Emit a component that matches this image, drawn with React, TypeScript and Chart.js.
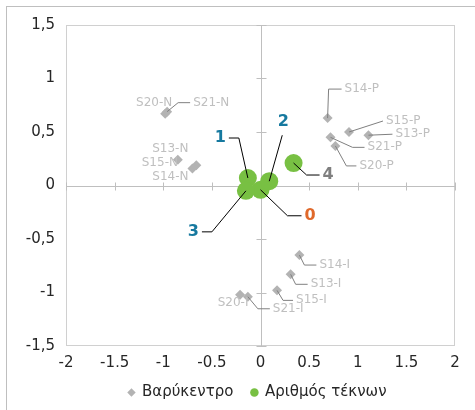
import React, { useEffect, useRef } from "react";
import { Chart, registerables } from "chart.js";

Chart.register(...registerables);

// ---------- DATA ----------
const seriesNames = ["Βαρύκεντρο", "Αριθμός τέκνων"];

const centroidNames = [
  "S13-N", "S14-N", "S15-N", "S20-N", "S21-N",
  "S13-P", "S14-P", "S15-P", "S20-P", "S21-P",
  "S13-I", "S14-I", "S15-I", "S20-I", "S21-I",
];
const centroidX = [-0.66, -0.70, -0.85, -0.98, -0.96, 1.11, 0.69, 0.91, 0.77, 0.72, 0.31, 0.40, 0.17, -0.21, -0.13];
const centroidY = [0.19, 0.16, 0.24, 0.67, 0.69, 0.47, 0.63, 0.50, 0.37, 0.45, -0.83, -0.65, -0.98, -1.02, -1.04];

const childNames = ["0", "1", "2", "3", "4"];
const childX = [0.0, -0.13, 0.09, -0.15, 0.34];
const childY = [-0.04, 0.07, 0.04, -0.05, 0.21];

const xMin = -2, xMax = 2, yMin = -1.5, yMax = 1.5, tickStep = 0.5;

// ---------- LABEL LAYOUT (pixel offsets from the point) ----------
type Align = "left" | "right" | "center";
type Leader = "none" | "elbow" | "below";
interface LabelSpec { dx: number; dy: number; align: Align; leader: Leader; elbow?: number; color?: string; }

const centroidLabelLayout: Record<string, LabelSpec> = {
  "S20-N": { dx: -11, dy: -11, align: "center", leader: "none" },
  "S21-N": { dx: 26, dy: -9, align: "left", leader: "elbow", elbow: 12 },
  "S15-N": { dx: -18, dy: 3, align: "center", leader: "none" },
  "S13-N": { dx: -26, dy: -16, align: "center", leader: "none" },
  "S14-N": { dx: -22, dy: 8, align: "center", leader: "none" },
  "S14-P": { dx: 17, dy: -29, align: "left", leader: "elbow", elbow: 13 },
  "S15-P": { dx: 37, dy: -11, align: "left", leader: "elbow", elbow: 0 },
  "S13-P": { dx: 27, dy: -1, align: "left", leader: "elbow", elbow: 0 },
  "S21-P": { dx: 37, dy: 10, align: "left", leader: "elbow", elbow: 12 },
  "S20-P": { dx: 24, dy: 20, align: "left", leader: "elbow", elbow: 10 },
  "S14-I": { dx: 20, dy: 10, align: "left", leader: "elbow", elbow: 12 },
  "S13-I": { dx: 20, dy: 10, align: "left", leader: "elbow", elbow: 12 },
  "S15-I": { dx: 19, dy: 10, align: "left", leader: "elbow", elbow: 10 },
  "S20-I": { dx: -7, dy: 8, align: "center", leader: "none" },
  "S21-I": { dx: 25, dy: 12, align: "left", leader: "elbow", elbow: 12 },
};

const childLabelLayout: Record<string, LabelSpec> = {
  "0": { dx: 44, dy: 26, align: "left", leader: "elbow", elbow: 14, color: "#e0692b" },
  "1": { dx: -22, dy: -40, align: "right", leader: "elbow", elbow: 10, color: "#16799f" },
  "2": { dx: 14, dy: -59, align: "center", leader: "below", color: "#16799f" },
  "3": { dx: -47, dy: 41, align: "right", leader: "elbow", elbow: 10, color: "#16799f" },
  "4": { dx: 29, dy: 12, align: "left", leader: "elbow", elbow: 13, color: "#7f7f7f" },
};

const FONT = "'DejaVu Sans', sans-serif";

function fmt(v: number): string {
  return String(Math.round(v * 10) / 10).replace(".", ",");
}

function drawLabel(ctx: CanvasRenderingContext2D, px: number, py: number, text: string, spec: LabelSpec, lineColor: string) {
  const tx = px + spec.dx;
  const ty = py + spec.dy;
  ctx.strokeStyle = lineColor;
  ctx.lineWidth = 1;
  if (spec.leader === "elbow") {
    const dir = spec.align === "right" ? -1 : 1;
    const edge = tx - dir * 3;
    const ex = edge - dir * (spec.elbow || 0);
    ctx.beginPath();
    ctx.moveTo(px, py);
    ctx.lineTo(ex, ty);
    ctx.lineTo(edge, ty);
    ctx.stroke();
  } else if (spec.leader === "below") {
    ctx.beginPath();
    ctx.moveTo(px, py);
    ctx.lineTo(tx - 1, ty + 13);
    ctx.stroke();
  }
  ctx.textAlign = spec.align;
  ctx.textBaseline = "middle";
  ctx.fillText(text, tx, ty);
}

const decorPlugin = {
  id: "decor",
  afterLayout(chart: any) {
    const lg = chart.legend;
    if (lg) {
      lg.left = chart.chartArea.left - 6;
      lg.right = chart.chartArea.right;
    }
  },
  beforeDraw(chart: any) {
    const ctx = chart.ctx as CanvasRenderingContext2D;
    ctx.save();
    ctx.fillStyle = "#ffffff";
    ctx.fillRect(0, 0, chart.width, chart.height);
    ctx.strokeStyle = "#bfbfbf";
    ctx.lineWidth = 1;
    ctx.strokeRect(6.5, 6.5, chart.width + 20, chart.height + 20);
    ctx.restore();
  },
  beforeDatasetsDraw(chart: any) {
    const ctx = chart.ctx as CanvasRenderingContext2D;
    const { left, right, top, bottom } = chart.chartArea;
    const xs = chart.scales.x;
    const ys = chart.scales.y;
    ctx.save();
    ctx.lineWidth = 1;
    ctx.strokeStyle = "#d0d0d0";
    ctx.strokeRect(Math.round(left) + 0.5, Math.round(top) + 0.5, Math.round(right - left) - 1, Math.round(bottom - top) - 1);
    const x0 = Math.round(xs.getPixelForValue(0)) + 0.5;
    const y0 = Math.round(ys.getPixelForValue(0)) + 0.5;
    ctx.strokeStyle = "#bfbfbf";
    ctx.beginPath();
    ctx.moveTo(x0, top); ctx.lineTo(x0, bottom);
    ctx.moveTo(left, y0); ctx.lineTo(right, y0);
    xs.ticks.forEach((t: any) => {
      const p = Math.round(xs.getPixelForValue(t.value)) + 0.5;
      ctx.moveTo(p, y0 - 4); ctx.lineTo(p, y0 + 4);
    });
    ys.ticks.forEach((t: any) => {
      const p = Math.round(ys.getPixelForValue(t.value)) + 0.5;
      ctx.moveTo(x0 - 5, p); ctx.lineTo(x0 + 5, p);
    });
    ctx.stroke();
    ctx.restore();
  },
  afterDatasetsDraw(chart: any) {
    const ctx = chart.ctx as CanvasRenderingContext2D;
    ctx.save();
    const m0 = chart.getDatasetMeta(0);
    ctx.font = `12px ${FONT}`;
    ctx.fillStyle = "#bfbfbf";
    centroidNames.forEach((name, i) => {
      const el = m0.data[i];
      const spec = centroidLabelLayout[name];
      if (el && spec) drawLabel(ctx, el.x, el.y, name, spec, "#808080");
    });
    const m1 = chart.getDatasetMeta(1);
    ctx.font = `bold 16px ${FONT}`;
    childNames.forEach((name, i) => {
      const el = m1.data[i];
      const spec = childLabelLayout[name];
      if (el && spec) {
        ctx.fillStyle = spec.color || "#000";
        drawLabel(ctx, el.x, el.y, name, spec, "#000000");
      }
    });
    ctx.restore();
  },
};

export default function App() {
  const ref = useRef<HTMLCanvasElement | null>(null);
  useEffect(() => {
    if (!ref.current) return;
    const chart = new Chart(ref.current, {
      type: "scatter",
      data: {
        datasets: [
          {
            label: seriesNames[0],
            data: centroidNames.map((_, i) => ({ x: centroidX[i], y: centroidY[i] })),
            pointStyle: "rectRot",
            pointRadius: 5,
            pointHoverRadius: 5,
            backgroundColor: "#b3b3b3",
            borderColor: "#a6a6a6",
            borderWidth: 0,
          },
          {
            label: seriesNames[1],
            data: childNames.map((_, i) => ({ x: childX[i], y: childY[i] })),
            pointStyle: "circle",
            pointRadius: 9,
            pointHoverRadius: 9,
            backgroundColor: "#78c043",
            borderColor: "#78c043",
            borderWidth: 0,
          },
        ],
      },
      options: {
        responsive: false,
        animation: false,
        layout: { padding: { left: 0, right: 20, top: 25, bottom: 0 } },
        plugins: {
          tooltip: { enabled: false },
          legend: {
            display: true,
            position: "bottom",
            labels: {
              usePointStyle: true,
              boxWidth: 6,
              boxHeight: 6,
              padding: 18,
              color: "#262626",
              font: { family: FONT, size: 15 },
            },
          },
        },
        scales: {
          x: {
            type: "linear",
            min: xMin,
            max: xMax,
            grid: { display: false, drawTicks: false },
            border: { display: false },
            ticks: {
              stepSize: tickStep,
              padding: 8,
              color: "#262626",
              font: { family: FONT, size: 15 },
              callback: (v: any) => fmt(Number(v)),
            },
            afterFit: (s: any) => { s.height = 21; },
          },
          y: {
            type: "linear",
            min: yMin,
            max: yMax,
            grid: { display: false, drawTicks: false },
            border: { display: false },
            ticks: {
              stepSize: tickStep,
              padding: 11,
              color: "#262626",
              font: { family: FONT, size: 15 },
              callback: (v: any) => fmt(Number(v)),
            },
            afterFit: (s: any) => { s.width = 66; },
          },
        },
      },
      plugins: [decorPlugin],
    } as any);
    return () => chart.destroy();
  }, []);
  return (
    <div style={{ position: "absolute", left: 0, top: 0, width: 475, height: 410 }}>
      <canvas ref={ref} width={475} height={410} />
    </div>
  );
}
